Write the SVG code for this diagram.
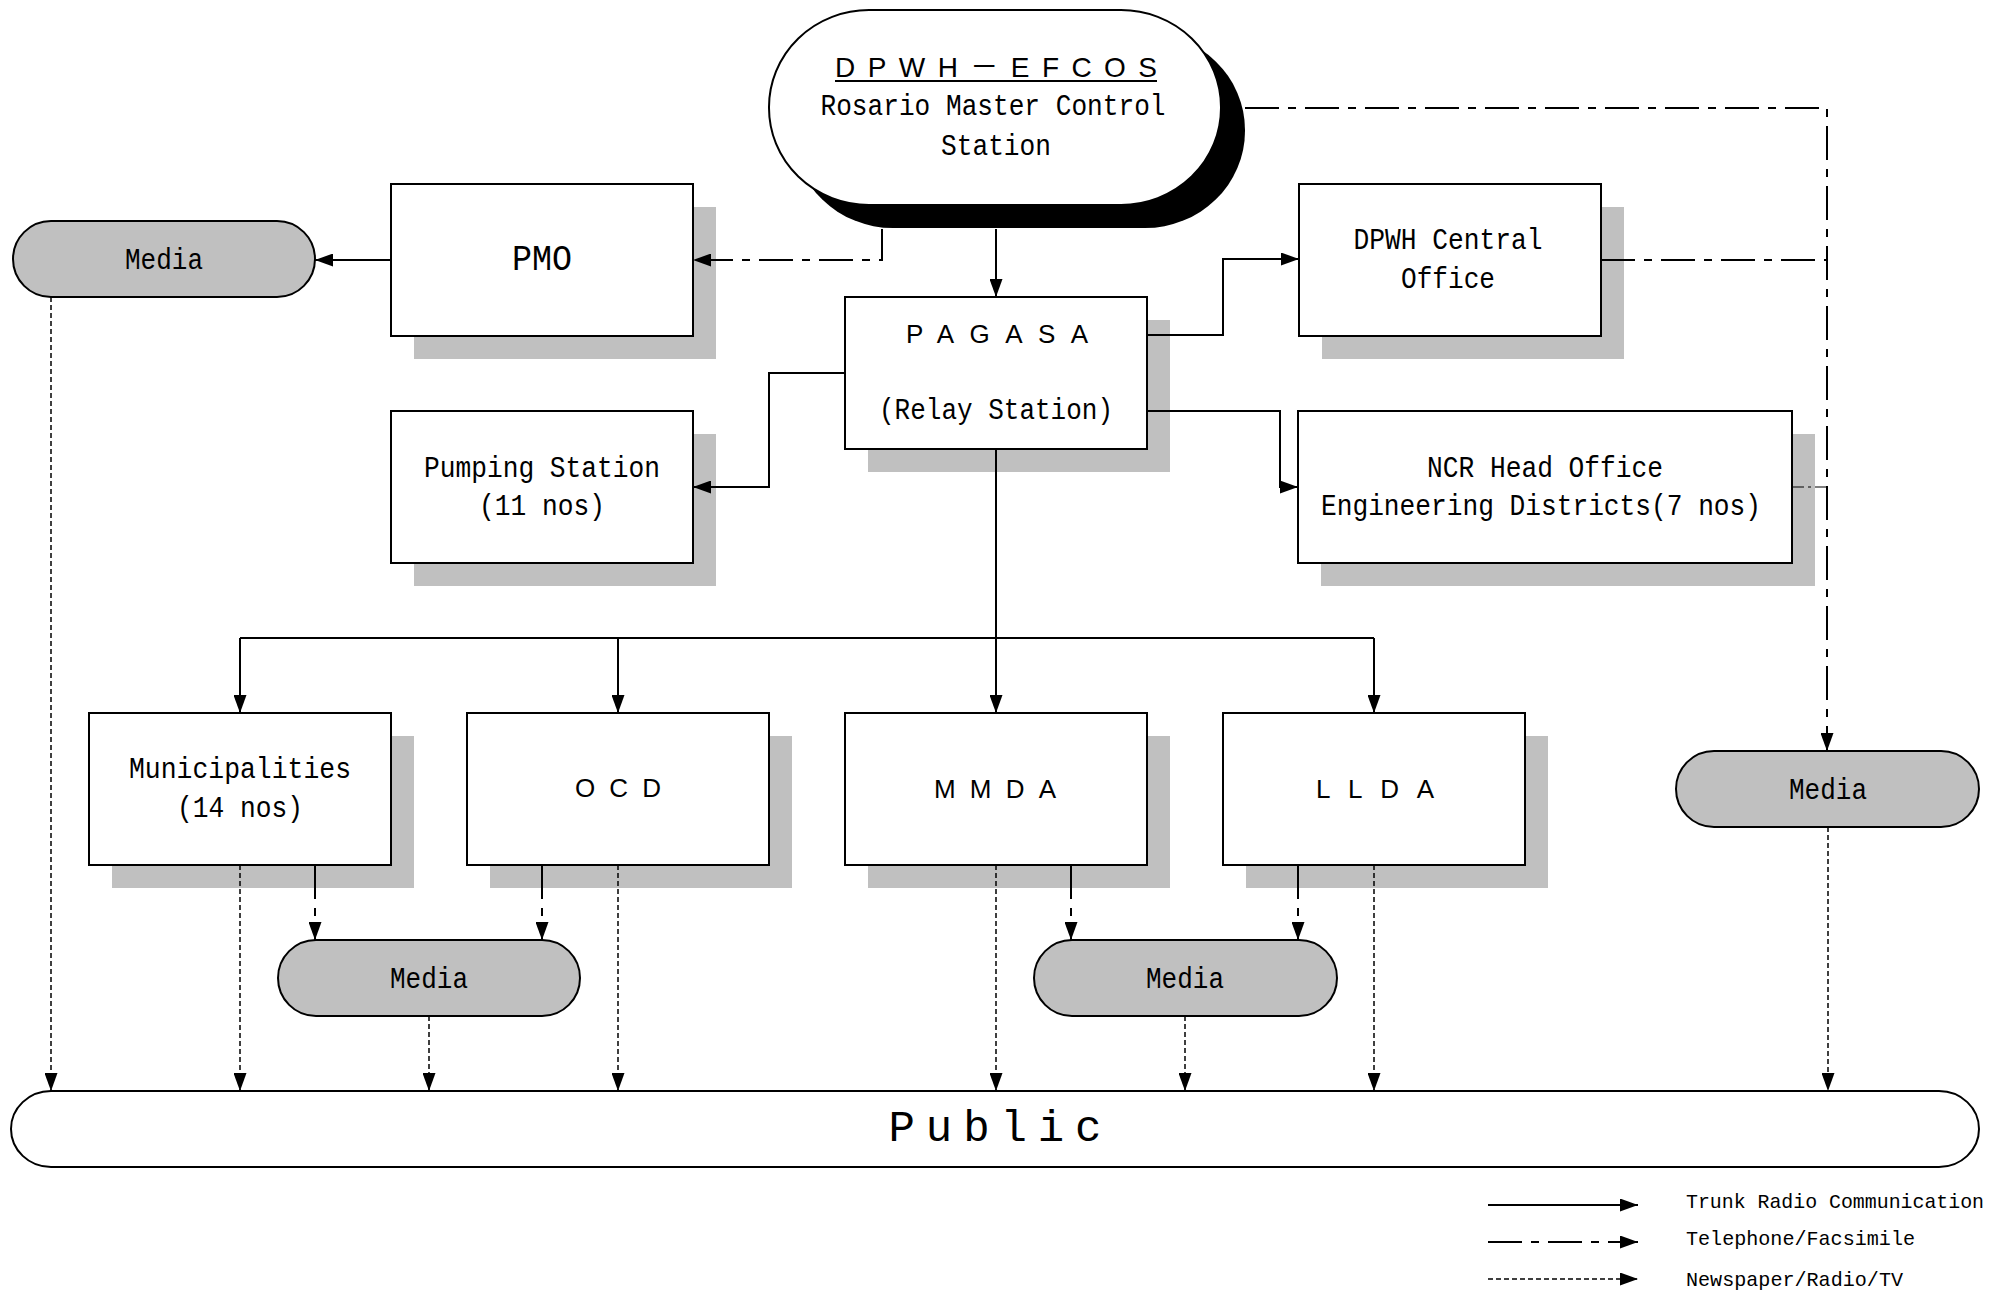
<svg xmlns="http://www.w3.org/2000/svg" width="2016" height="1294" viewBox="0 0 2016 1294">
<style>
.bg{fill:#ffffff}
.box{fill:#ffffff;stroke:#000;stroke-width:2}
.sh{fill:#c0c0c0}
.media{fill:#c0c0c0;stroke:#000;stroke-width:2}
.t{font-family:"Liberation Mono","DejaVu Sans Mono",monospace;font-size:30px;fill:#000;text-anchor:middle}
.ts{font-family:"Liberation Sans",Arial,"Noto Sans CJK JP",sans-serif;font-size:26px;fill:#000;text-anchor:middle}
.lg{font-family:"Liberation Mono","DejaVu Sans Mono",monospace;font-size:21px;fill:#000}
.solid{fill:none;stroke:#000;stroke-width:2}
.tel{fill:none;stroke:#000;stroke-width:2;stroke-dasharray:34 9 8 9}
.news{fill:none;stroke:#000;stroke-width:1.5;stroke-dasharray:5 3}
</style>
<defs>
<marker id="ah" markerUnits="userSpaceOnUse" markerWidth="18" markerHeight="13" refX="18" refY="6.5" orient="auto">
<path d="M0,0 L18,6.5 L0,13 z" fill="#000"/>
</marker>
</defs>
<rect class="bg" x="0" y="0" width="2016" height="1294"/>

<g id="node-efcos">
<rect x="793" y="33" width="452" height="195" rx="100" ry="97" fill="#000"/>
<rect x="769" y="10" width="452" height="195" rx="100" ry="97" class="box"/>
<text class="ts" x="996" y="77" style="font-size:28px" textLength="322" lengthAdjust="spacing">DPWH－EFCOS</text>
<line x1="835" y1="81" x2="1157" y2="81" stroke="#000" stroke-width="2"/>
<text class="t" x="993" y="115" textLength="345" lengthAdjust="spacingAndGlyphs">Rosario Master Control</text>
<text class="t" x="996" y="155" textLength="110" lengthAdjust="spacingAndGlyphs">Station</text>
</g>

<g id="node-pmo">
<rect class="sh" x="414" y="207" width="302" height="152"/>
<rect class="box" x="391" y="184" width="302" height="152"/>
<text class="t" x="542" y="270" style="font-size:37px" textLength="60" lengthAdjust="spacingAndGlyphs">PMO</text>
</g>

<g id="node-media-left">
<rect class="media" x="13" y="221" width="302" height="76" rx="38" ry="38"/>
<text class="t" x="164" y="269" textLength="78" lengthAdjust="spacingAndGlyphs">Media</text>
</g>

<g id="node-pagasa">
<rect class="sh" x="868" y="320" width="302" height="152"/>
<rect class="box" x="845" y="297" width="302" height="152"/>
<text class="ts" x="997" y="343" textLength="182" lengthAdjust="spacing">PAGASA</text>
<text class="t" x="996" y="419" textLength="234" lengthAdjust="spacingAndGlyphs">(Relay Station)</text>
</g>

<g id="node-central">
<rect class="sh" x="1322" y="207" width="302" height="152"/>
<rect class="box" x="1299" y="184" width="302" height="152"/>
<text class="t" x="1448" y="249" textLength="189" lengthAdjust="spacingAndGlyphs">DPWH Central</text>
<text class="t" x="1448" y="288" textLength="94" lengthAdjust="spacingAndGlyphs">Office</text>
</g>

<g id="node-pumping">
<rect class="sh" x="414" y="434" width="302" height="152"/>
<rect class="box" x="391" y="411" width="302" height="152"/>
<text class="t" x="542" y="477" textLength="236" lengthAdjust="spacingAndGlyphs">Pumping Station</text>
<text class="t" x="542" y="515" textLength="126" lengthAdjust="spacingAndGlyphs">(11 nos)</text>
</g>

<g id="node-ncr">
<rect class="sh" x="1321" y="434" width="494" height="152"/>
<rect class="box" x="1298" y="411" width="494" height="152"/>
<text class="t" x="1545" y="477" textLength="236" lengthAdjust="spacingAndGlyphs">NCR Head Office</text>
<text class="t" x="1541" y="515" textLength="440" lengthAdjust="spacingAndGlyphs">Engineering Districts(7 nos)</text>
</g>

<g id="node-municipalities">
<rect class="sh" x="112" y="736" width="302" height="152"/>
<rect class="box" x="89" y="713" width="302" height="152"/>
<text class="t" x="240" y="778" textLength="222" lengthAdjust="spacingAndGlyphs">Municipalities</text>
<text class="t" x="240" y="817" textLength="126" lengthAdjust="spacingAndGlyphs">(14 nos)</text>
</g>

<g id="node-ocd">
<rect class="sh" x="490" y="736" width="302" height="152"/>
<rect class="box" x="467" y="713" width="302" height="152"/>
<text class="ts" x="618" y="797" textLength="86" lengthAdjust="spacing">OCD</text>
</g>

<g id="node-mmda">
<rect class="sh" x="868" y="736" width="302" height="152"/>
<rect class="box" x="845" y="713" width="302" height="152"/>
<text class="ts" x="995" y="798" textLength="122" lengthAdjust="spacing">MMDA</text>
</g>

<g id="node-llda">
<rect class="sh" x="1246" y="736" width="302" height="152"/>
<rect class="box" x="1223" y="713" width="302" height="152"/>
<text class="ts" x="1375" y="798" textLength="118" lengthAdjust="spacing">LLDA</text>
</g>

<g id="node-media-right">
<rect class="media" x="1676" y="751" width="303" height="76" rx="38" ry="38"/>
<text class="t" x="1828" y="799" textLength="78" lengthAdjust="spacingAndGlyphs">Media</text>
</g>

<g id="node-media-midleft">
<rect class="media" x="278" y="940" width="302" height="76" rx="38" ry="38"/>
<text class="t" x="429" y="988" textLength="78" lengthAdjust="spacingAndGlyphs">Media</text>
</g>

<g id="node-media-midright">
<rect class="media" x="1034" y="940" width="303" height="76" rx="38" ry="38"/>
<text class="t" x="1185" y="988" textLength="78" lengthAdjust="spacingAndGlyphs">Media</text>
</g>

<g id="node-public">
<rect class="box" x="11" y="1091" width="1968" height="76" rx="40" ry="38"/>
<text class="t" x="995" y="1141" style="font-size:44px" textLength="213" lengthAdjust="spacing">Public</text>
</g>

<g id="connectors">
<path class="solid" d="M996,229 L996,297" marker-end="url(#ah)"/>
<path class="solid" d="M391,260 L315,260" marker-end="url(#ah)"/>
<path class="solid" d="M1147,335 L1223,335 L1223,259 L1299,259" marker-end="url(#ah)"/>
<path class="solid" d="M1147,411 L1280,411 L1280,487 L1298,487" marker-end="url(#ah)"/>
<path class="solid" d="M845,373 L769,373 L769,487 L693,487" marker-end="url(#ah)"/>
<path class="solid" d="M996,449 L996,713" marker-end="url(#ah)"/>
<path class="solid" d="M240,638 L1374,638"/>
<path class="solid" d="M240,638 L240,713" marker-end="url(#ah)"/>
<path class="solid" d="M618,638 L618,713" marker-end="url(#ah)"/>
<path class="solid" d="M1374,638 L1374,713" marker-end="url(#ah)"/>
<path class="tel" d="M882,229 L882,260 L693,260" marker-end="url(#ah)"/>
<path class="tel" d="M1245,108 L1827,108 L1827,751" marker-end="url(#ah)"/>
<path class="tel" d="M1601,260 L1827,260"/>
<path class="tel" d="M1792,487 L1827,487" style="stroke-width:1.2;stroke-dasharray:12 4 3 4"/>
<path class="tel" d="M315,865 L315,940" marker-end="url(#ah)"/>
<path class="tel" d="M542,865 L542,940" marker-end="url(#ah)"/>
<path class="tel" d="M1071,865 L1071,940" marker-end="url(#ah)"/>
<path class="tel" d="M1298,865 L1298,940" marker-end="url(#ah)"/>
<path class="news" d="M51,297 L51,1091" marker-end="url(#ah)"/>
<path class="news" d="M240,865 L240,1091" marker-end="url(#ah)"/>
<path class="news" d="M429,1016 L429,1091" marker-end="url(#ah)"/>
<path class="news" d="M618,865 L618,1091" marker-end="url(#ah)"/>
<path class="news" d="M996,865 L996,1091" marker-end="url(#ah)"/>
<path class="news" d="M1185,1016 L1185,1091" marker-end="url(#ah)"/>
<path class="news" d="M1374,865 L1374,1091" marker-end="url(#ah)"/>
<path class="news" d="M1828,827 L1828,1091" marker-end="url(#ah)"/>
</g>

<g id="legend">
<path class="solid" d="M1488,1205 L1638,1205" marker-end="url(#ah)"/>
<path class="tel" d="M1488,1242 L1638,1242" marker-end="url(#ah)"/>
<path class="news" d="M1488,1279 L1638,1279" marker-end="url(#ah)"/>
<text class="lg" x="1686" y="1208" textLength="298" lengthAdjust="spacingAndGlyphs">Trunk Radio Communication</text>
<text class="lg" x="1686" y="1245" textLength="229" lengthAdjust="spacingAndGlyphs">Telephone/Facsimile</text>
<text class="lg" x="1686" y="1286" textLength="217" lengthAdjust="spacingAndGlyphs">Newspaper/Radio/TV</text>
</g>
</svg>
